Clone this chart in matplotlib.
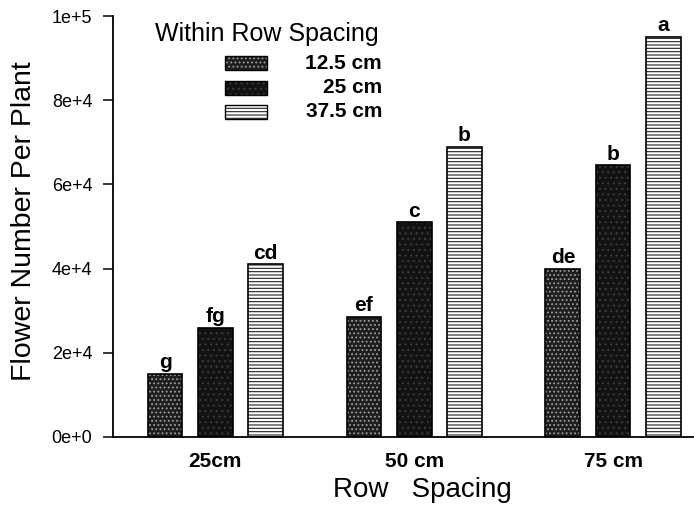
import numpy as np
import matplotlib
matplotlib.use('Agg')
from matplotlib import pyplot as plt
from matplotlib.patches import Rectangle

plt.rcParams['font.family'] = ['Liberation Sans', 'DejaVu Sans']
plt.rcParams['hatch.linewidth'] = 0.8

row_spacing = ['25cm', '50 cm', '75 cm']
within_spacing = ['12.5 cm', '25 cm', '37.5 cm']
flowers_125 = [15000, 28500, 40000]
flowers_25 = [26000, 51000, 64500]
flowers_375 = [41000, 69000, 95000]
letters_125 = ['g', 'ef', 'de']
letters_25 = ['fg', 'c', 'b']
letters_375 = ['cd', 'b', 'a']
yticks = [0, 20000, 40000, 60000, 80000, 100000]
ytick_labels = ['0e+0', '2e+4', '4e+4', '6e+4', '8e+4', '1e+5']

# fill, hatch colour, hatch
styles = [('#1e1e1e', '#a0a0a0', '....'),
          ('#121212', '#3c3c3c', '...'),
          ('white', '#222222', '-----')]

fig = plt.figure(figsize=(6.94, 5.08), dpi=100)
ax = fig.add_axes([0.163, 0.1398, 0.837, 0.8287])

x = np.arange(len(row_spacing))
w = 0.175
offs = [-0.252, 0.0, 0.252]
series = [flowers_125, flowers_25, flowers_375]
letters = [letters_125, letters_25, letters_375]

for s, vals, labs, off in zip(styles, series, letters, offs):
    fc, hc, h = s
    # hatch layer first, then the black outline on top
    ax.bar(x + off, vals, w, color=fc, edgecolor=hc, hatch=h, linewidth=0, zorder=2)
    ax.bar(x + off, vals, w, fill=False, edgecolor='black', linewidth=1.2, zorder=3)
    for xi, v, t in zip(x + off, vals, labs):
        ax.annotate(t, (xi, v), xytext=(0, 4), textcoords='offset points',
                    ha='center', va='baseline', fontsize=15, fontweight='bold')

ax.set_xlim(-0.513, 2.407)
ax.set_ylim(0, 100000)
ax.set_yticks(yticks)
ax.set_yticklabels(ytick_labels, fontsize=13)
ax.set_xticks(x)
ax.set_xticklabels(row_spacing, fontsize=15, fontweight='bold')
ax.tick_params(axis='x', length=0, pad=11)
ax.tick_params(axis='y', length=7, width=1.1, pad=8)
for side in ['top', 'right']:
    ax.spines[side].set_visible(False)
for side in ['left', 'bottom']:
    ax.spines[side].set_linewidth(1.3)

ax.set_xlabel('Row   Spacing', fontsize=20)
ax.xaxis.set_label_coords(0.532, -0.095)
ax.set_ylabel('Flower Number Per Plant', fontsize=20.5)
ax.yaxis.set_label_coords(-0.131, 0.513)

# legend, drawn by hand so labels sit right-aligned like the original
ax.text(0.265, 0.985, 'Within Row Spacing', transform=ax.transAxes,
        ha='center', va='top', fontsize=18)
leg_y = [0.888, 0.829, 0.772]
for s, lab, yy in zip(styles, within_spacing, leg_y):
    fc, hc, h = s
    ax.add_patch(Rectangle((0.193, yy - 0.016), 0.072, 0.032, transform=ax.transAxes,
                           facecolor=fc, edgecolor=hc, hatch=h, linewidth=0, clip_on=False))
    ax.add_patch(Rectangle((0.193, yy - 0.016), 0.072, 0.032, transform=ax.transAxes,
                           fill=False, edgecolor='black', linewidth=1.0, clip_on=False))
    ax.text(0.463, yy, lab, transform=ax.transAxes, ha='right', va='center',
            fontsize=15, fontweight='bold')

plt.savefig('out.png', dpi=100)
plt.close()
